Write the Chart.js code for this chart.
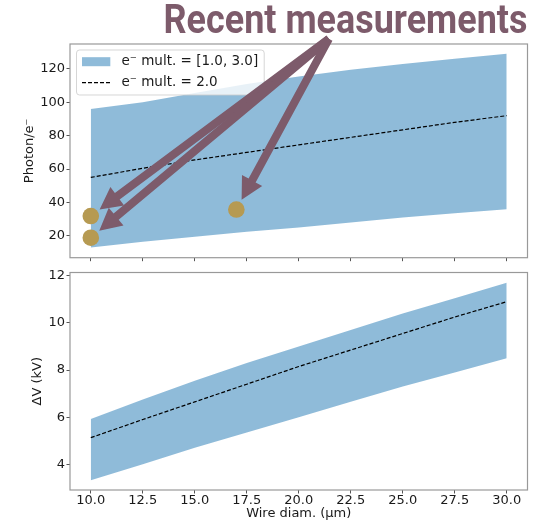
<!DOCTYPE html>
<html>
<head>
<meta charset="utf-8">
<script src="https://cdn.jsdelivr.net/npm/chart.js@4.4.0/dist/chart.umd.min.js"></script>
<style>
    html, body { margin: 0; padding: 0; background: #fff; }
    #wrap { position: relative; width: 541px; height: 523px; }
    #cTop { position: absolute; left: 0; top: 0; }
    #cBot { position: absolute; left: 0; top: 266px; }
</style>
</head>
<body>
<div id="wrap">
    <canvas id="cTop" width="541" height="266"></canvas>
    <canvas id="cBot" width="541" height="257"></canvas>
</div>
<script>
// Values
const wireDiam = [10, 12.5, 15, 17.5, 20, 22.5, 25, 27.5, 30];
const photonHigh = [96, 100, 105.5, 111, 115.5, 119.5, 123, 126, 129];
const photonLow = [13, 16.5, 19.5, 22.5, 25, 28, 31, 33.5, 36];
const photonMid = [55, 60.5, 65.5, 70, 74.5, 79, 83.5, 88, 92];
const dvHigh = [5.92, 6.75, 7.55, 8.3, 9.0, 9.7, 10.4, 11.05, 11.7];
const dvLow = [3.32, 4.0, 4.7, 5.35, 6.0, 6.65, 7.3, 7.9, 8.5];
const dvMid = [5.13, 5.9, 6.65, 7.4, 8.15, 8.85, 9.55, 10.25, 10.9];
const measDiam = [10, 10, 17];
const measPhoton = [31.9, 18.9, 35.8];

const xTicks = [10, 12.5, 15, 17.5, 20, 22.5, 25, 27.5, 30];
const photonTicks = [20, 40, 60, 80, 100, 120];
const dvTicks = [4, 6, 8, 10, 12];

const legendLabels = ['e\u207B mult. = [1.0, 3.0]', 'e\u207B mult. = 2.0'];
const noteText = 'Recent measurements';
const noteSource = { x: 21.45, y: 138 }; // where the arrows start, in data units

// Colours
const bandColor = 'rgba(31, 119, 180, 0.5)';
const noteColor = '#7d5b6b';
const markerColor = '#b69a52';
const frameColor = '#999';
const tickColor = '#555';
const textColor = '#1a1a1a';

const pts = (xs, ys) => xs.map((x, i) => ({ x: x, y: ys[i] }));

// lower "order" is painted later, i.e. on top
function bandDatasets(high, low, mid) {
    return [
        { data: pts(wireDiam, high), order: 3, fill: '+1', backgroundColor: bandColor, borderWidth: 0, pointRadius: 0 },
        { data: pts(wireDiam, low), order: 2, fill: false, borderWidth: 0, pointRadius: 0 },
        { data: pts(wireDiam, mid), order: 1, fill: false, borderColor: '#000', borderWidth: 1.2, borderDash: [4, 2], pointRadius: 0 }
    ];
}

function yScale(min, max, ticks, title, titlePad) {
    return {
        type: 'linear', min: min, max: max,
        afterBuildTicks: s => { s.ticks = ticks.map(v => ({ value: v })); },
        afterFit: s => { s.width = 70; s.paddingTop = 0; s.paddingBottom = 0; },
        grid: { drawOnChartArea: false, drawTicks: true, tickLength: 3.5, color: tickColor, lineWidth: 1 },
        border: { display: false },
        ticks: { padding: 1.5, color: textColor, font: { family: 'DejaVu Sans', size: 13 } },
        title: { display: true, text: title, color: textColor, padding: { top: titlePad, bottom: 0 },
                 font: { family: 'DejaVu Sans', size: 13, lineHeight: 1.2 } }
    };
}

function xScale(showLabels, height) {
    return {
        type: 'linear', min: 9, max: 31,
        afterBuildTicks: s => { s.ticks = xTicks.map(v => ({ value: v })); },
        afterFit: s => { s.height = height; s.paddingLeft = 0; s.paddingRight = 0; },
        grid: { drawOnChartArea: false, drawTicks: true, tickLength: 3.5, color: tickColor, lineWidth: 1 },
        border: { display: false },
        ticks: { display: showLabels, padding: 0, color: textColor, maxRotation: 0, autoSkip: false,
                 callback: v => Number(v).toFixed(1),
                 font: { family: 'DejaVu Sans', size: 13, lineHeight: 1.1 } },
        title: { display: showLabels, text: 'Wire diam. (\u03BCm)', color: textColor, padding: { top: 0, bottom: 1.2 },
                 font: { family: 'DejaVu Sans', size: 13, lineHeight: 1.2 } }
    };
}

// Axes box on all four sides
const framePlugin = {
    id: 'frame',
    afterDatasetsDraw(chart) {
        const { ctx, chartArea: a } = chart;
        ctx.save();
        ctx.strokeStyle = frameColor;
        ctx.lineWidth = 1.2;
        ctx.strokeRect(a.left, a.top, a.right - a.left, a.bottom - a.top);
        ctx.restore();
    }
};

function drawLegend(chart) {
    const { ctx, chartArea: a } = chart;
    ctx.save();
    ctx.font = '13.5px "DejaVu Sans"';
    const textW = Math.max(...legendLabels.map(t => ctx.measureText(t).width));
    const x0 = a.left + 6.5, y0 = a.top + 6;
    const w = 45 + textW + 6, h = 45;
    ctx.beginPath();
    ctx.roundRect(x0, y0, w, h, 3);
    ctx.fillStyle = 'rgba(255,255,255,0.8)';
    ctx.fill();
    ctx.strokeStyle = 'rgba(204,204,204,0.8)';
    ctx.lineWidth = 1;
    ctx.stroke();

    const rows = [y0 + 11.7, y0 + 32.7];
    ctx.fillStyle = bandColor;
    ctx.fillRect(x0 + 5.5, rows[0] - 4.5, 28.3, 9);
    ctx.strokeStyle = '#000';
    ctx.lineWidth = 1.2;
    ctx.setLineDash([4, 2]);
    ctx.beginPath();
    ctx.moveTo(x0 + 5.5, rows[1]);
    ctx.lineTo(x0 + 33.8, rows[1]);
    ctx.stroke();
    ctx.setLineDash([]);

    ctx.fillStyle = textColor;
    ctx.textBaseline = 'middle';
    legendLabels.forEach((t, i) => ctx.fillText(t, x0 + 45, rows[i]));
    ctx.restore();
}

function drawArrow(ctx, sx, sy, tx, ty) {
    const dx = sx - tx, dy = sy - ty;
    const len = Math.hypot(dx, dy);
    const ux = dx / len, uy = dy / len;
    const px = -uy, py = ux;
    const tipX = tx + ux * 11, tipY = ty + uy * 11; // stop short of the marker
    const headLen = 22, headHalf = 11.5, shaftHalf = 4;
    const bx = tipX + ux * headLen, by = tipY + uy * headLen;
    ctx.beginPath();
    ctx.moveTo(tipX, tipY);
    ctx.lineTo(bx + px * headHalf, by + py * headHalf);
    ctx.lineTo(bx + px * shaftHalf, by + py * shaftHalf);
    ctx.lineTo(sx + px * shaftHalf, sy + py * shaftHalf);
    ctx.lineTo(sx - px * shaftHalf, sy - py * shaftHalf);
    ctx.lineTo(bx - px * shaftHalf, by - py * shaftHalf);
    ctx.lineTo(bx - px * headHalf, by - py * headHalf);
    ctx.closePath();
    ctx.fill();
}

const notePlugin = {
    id: 'note',
    afterDraw(chart) {
        const { ctx, chartArea: a, scales } = chart;
        drawLegend(chart);

        ctx.save();
        ctx.fillStyle = noteColor;
        const sx = scales.x.getPixelForValue(noteSource.x);
        const sy = scales.y.getPixelForValue(noteSource.y);
        measDiam.forEach((d, i) => {
            drawArrow(ctx, sx, sy, scales.x.getPixelForValue(d), scales.y.getPixelForValue(measPhoton[i]));
        });

        // condensed bold heading, squeezed to the width seen in the reference
        ctx.font = 'bold 41px Roboto';
        const w = ctx.measureText(noteText).width;
        ctx.translate(a.right, 33);
        ctx.scale(364 / w, 1);
        ctx.textAlign = 'right';
        ctx.textBaseline = 'alphabetic';
        ctx.fillText(noteText, 0, 0);
        ctx.restore();
    }
};

new Chart(document.getElementById('cTop'), {
    type: 'line',
    data: {
        datasets: bandDatasets(photonHigh, photonLow, photonMid).concat([{
            type: 'scatter',
            order: 0,
            data: pts(measDiam, measPhoton),
            pointRadius: 8.3,
            pointBackgroundColor: markerColor,
            pointBorderWidth: 0,
            borderWidth: 0
        }])
    },
    options: {
        responsive: false,
        devicePixelRatio: 1,
        animation: false,
        layout: { padding: { top: 44, right: 13.5, left: 0, bottom: 0 } },
        plugins: { legend: { display: false }, tooltip: { enabled: false } },
        scales: {
            x: xScale(false, 4.5),
            y: yScale(6.95, 134.9, photonTicks, 'Photon/e\u207B', 22.2)
        }
    },
    plugins: [framePlugin, notePlugin]
});

new Chart(document.getElementById('cBot'), {
    type: 'line',
    data: { datasets: bandDatasets(dvHigh, dvLow, dvMid) },
    options: {
        responsive: false,
        devicePixelRatio: 1,
        animation: false,
        layout: { padding: { top: 6.5, right: 13.5, left: 0, bottom: 0 } },
        plugins: { legend: { display: false }, tooltip: { enabled: false } },
        scales: {
            x: xScale(true, 33),
            y: yScale(2.91, 12.14, dvTicks, '\u0394V (kV)', 30.2)
        }
    },
    plugins: [framePlugin]
});
</script>
</body>
</html>
